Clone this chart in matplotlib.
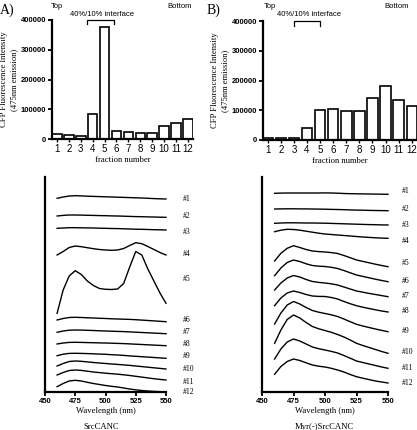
import matplotlib
matplotlib.use("Agg")
import matplotlib.pyplot as plt

# bar data (CFP fluorescence, 475nm emission)
fractions = list(range(1, 13))
bars_a = [17000, 13500, 10000, 84000, 375000, 27000, 22500, 20000, 21000, 45000, 53000, 66000]
bars_b = [8000, 6000, 6000, 40000, 101000, 105000, 99000, 99000, 141000, 181000, 133000, 113000]
yticks = [0, 100000, 200000, 300000, 400000]

# emission spectra, stacked (arbitrary units, offset per fraction)
wavelength = [460, 465, 470, 475, 480, 485, 490, 495, 500, 505, 510, 515, 520, 525, 530, 535, 540, 545, 550]
spec_a = [
    [193.7, 195.0, 196.0, 196.3, 196.1, 195.8, 195.6, 195.4, 195.2, 195.0, 194.8, 194.6, 194.4, 194.2, 194.0, 193.7, 193.4, 193.2, 193.0],
    [176.0, 176.6, 177.0, 177.0, 176.9, 176.7, 176.6, 176.4, 176.3, 176.1, 176.0, 175.8, 175.6, 175.4, 175.3, 175.1, 175.0, 174.8, 174.7],
    [163.7, 164.0, 164.3, 164.3, 164.2, 164.1, 164.0, 163.8, 163.7, 163.5, 163.4, 163.2, 163.0, 162.8, 162.7, 162.5, 162.3, 162.2, 162.0],
    [137.0, 140.5, 144.5, 146.0, 145.3, 144.3, 143.3, 142.5, 142.0, 141.7, 142.0, 143.5, 146.5, 149.3, 148.3, 145.5, 142.5, 139.5, 137.0],
    [78.7, 102.0, 116.0, 121.3, 117.5, 111.0, 106.5, 103.5, 102.7, 102.5, 103.0, 108.5, 125.0, 140.5, 137.0, 123.0, 111.0, 99.0, 88.7],
    [72.0, 73.5, 74.5, 74.7, 74.5, 74.2, 74.0, 73.7, 73.5, 73.2, 73.0, 72.8, 72.6, 72.3, 71.9, 71.5, 71.1, 70.7, 70.3],
    [59.7, 61.0, 61.8, 62.0, 61.9, 61.7, 61.5, 61.2, 61.0, 60.8, 60.6, 60.4, 60.1, 59.8, 59.5, 59.2, 58.9, 58.6, 58.3],
    [48.0, 49.0, 49.6, 49.7, 49.6, 49.4, 49.3, 49.1, 49.0, 48.8, 48.6, 48.4, 48.1, 47.8, 47.5, 47.2, 46.9, 46.6, 46.3],
    [36.3, 37.8, 38.6, 38.7, 38.6, 38.4, 38.2, 37.9, 37.7, 37.3, 37.0, 36.6, 36.1, 35.7, 35.3, 34.9, 34.5, 34.1, 33.7],
    [26.0, 28.5, 30.5, 31.0, 30.7, 30.1, 29.5, 29.0, 28.5, 28.0, 27.6, 27.1, 26.6, 26.0, 25.4, 24.8, 24.2, 23.6, 23.0],
    [17.0, 19.5, 21.5, 22.0, 21.6, 20.8, 20.0, 19.4, 18.8, 18.3, 17.8, 17.2, 16.5, 15.7, 14.9, 14.1, 13.3, 12.6, 12.0],
    [5.3, 8.5, 11.0, 11.7, 11.0, 9.7, 8.5, 7.5, 6.5, 5.7, 5.0, 4.0, 3.0, 2.2, 1.5, 1.0, 0.6, 0.3, 0.0],
]
spec_b = [
    [198.7, 198.9, 199.0, 199.0, 199.0, 199.0, 199.0, 199.0, 199.1, 199.0, 198.8, 198.5, 198.3, 198.2, 198.1, 198.0, 197.9, 197.8, 197.7],
    [183.0, 183.1, 183.2, 183.2, 183.1, 183.1, 183.0, 182.9, 182.8, 182.6, 182.5, 182.3, 182.1, 181.9, 181.8, 181.6, 181.5, 181.4, 181.3],
    [168.7, 169.0, 169.2, 169.2, 169.1, 169.0, 169.0, 168.9, 168.8, 168.6, 168.4, 168.2, 168.0, 167.8, 167.6, 167.4, 167.3, 167.1, 167.0],
    [160.3, 161.8, 162.7, 162.5, 161.8, 160.8, 159.8, 158.8, 158.0, 157.5, 157.0, 156.5, 156.0, 155.5, 155.0, 154.6, 154.2, 153.9, 153.7],
    [131.0, 138.7, 143.7, 146.3, 144.5, 142.5, 141.0, 140.4, 140.0, 139.4, 138.5, 136.5, 134.3, 132.0, 130.6, 129.2, 127.8, 126.5, 125.3],
    [116.3, 124.0, 129.5, 132.0, 130.5, 128.2, 126.5, 125.8, 125.5, 124.7, 123.5, 121.5, 119.2, 117.0, 115.6, 114.2, 112.8, 111.5, 110.3],
    [102.0, 109.0, 114.0, 116.5, 115.0, 112.5, 110.5, 109.6, 109.0, 108.2, 107.0, 105.0, 103.0, 101.0, 99.8, 98.6, 97.5, 96.4, 95.3],
    [86.3, 94.0, 99.0, 101.0, 99.5, 97.5, 96.0, 95.6, 95.5, 94.5, 93.0, 90.5, 88.3, 86.3, 84.8, 83.5, 82.2, 81.0, 80.0],
    [68.0, 79.0, 87.0, 90.5, 88.0, 84.5, 81.5, 79.8, 78.5, 77.2, 75.5, 73.0, 70.3, 67.7, 66.0, 64.5, 63.0, 61.6, 60.3],
    [48.7, 62.0, 72.5, 77.0, 74.0, 69.5, 65.5, 63.2, 61.5, 59.7, 57.5, 55.0, 52.0, 48.7, 46.5, 44.5, 42.5, 40.5, 38.7],
    [33.0, 43.0, 50.0, 53.0, 51.0, 48.0, 45.0, 43.3, 42.0, 40.6, 39.0, 36.5, 33.8, 31.0, 29.5, 28.0, 26.5, 25.0, 23.7],
    [17.7, 25.5, 30.5, 33.0, 31.5, 29.2, 27.0, 25.8, 25.0, 23.7, 22.0, 20.0, 17.5, 15.3, 13.8, 12.4, 11.0, 10.0, 9.0],
]
curve_names = ["#%d" % i for i in fractions]
label_y_a = [193, 176, 160, 138, 113, 72, 60, 48, 36, 23, 10, 0]
label_y_b = [201, 183, 167, 151, 129, 111, 96, 81, 61, 40, 24, 9]
wl_ticks = [450, 475, 500, 525, 550]

SERIF = "Liberation Serif"
SANS = "Liberation Sans"

fig = plt.figure(figsize=(4.17, 4.30), dpi=100)


def bar_panel(rect, values, xlim, bracket):
    ax = fig.add_axes(rect)
    ax.bar(fractions, values, width=0.8, facecolor="white", edgecolor="black", linewidth=1.2)
    ax.set_xlim(*xlim)
    ax.set_ylim(0, 400000)
    ax.set_yticks(yticks)
    ax.set_yticklabels([str(v) for v in yticks], fontsize=5.5, fontweight="bold", family=SANS)
    ax.set_xticks(fractions)
    ax.set_xticklabels([str(f) for f in fractions], fontsize=7, family=SANS)
    ax.tick_params(axis="y", direction="out", length=3, width=1.3, pad=1)
    ax.tick_params(axis="x", direction="out", length=2, width=1.0, pad=1.5)
    for s in ["top", "right"]:
        ax.spines[s].set_visible(False)
    for s in ["left", "bottom"]:
        ax.spines[s].set_linewidth(1.6)
    ax.set_xlabel("fraction number", fontsize=6.2, family=SERIF, labelpad=1.5)
    ax.set_ylabel("CFP Fluorescence Intensity\n(475nm emission)", fontsize=6.2,
                  family=SERIF, labelpad=2, linespacing=1.4)
    x0, x1, ylow = bracket
    ax.plot([x0, x0, x1, x1], [ylow, 400000, 400000, ylow], color="black", lw=0.9, clip_on=False)
    return ax


def spec_panel(rect, spectra, label_x, label_y):
    ax = fig.add_axes(rect)
    for ys in spectra:
        ax.plot(wavelength, ys, color="black", lw=1.0, clip_on=False, solid_joinstyle="round")
    ax.set_xlim(450, 550)
    ax.set_ylim(0, 215)
    ax.set_yticks([])
    ax.set_xticks(wl_ticks)
    ax.set_xticklabels([str(w) for w in wl_ticks], fontsize=5.5, fontweight="bold", family=SANS)
    ax.tick_params(axis="x", direction="out", length=3, width=1.3, pad=1)
    for s in ["top", "right"]:
        ax.spines[s].set_visible(False)
    for s in ["left", "bottom"]:
        ax.spines[s].set_linewidth(1.6)
    for name, y in zip(curve_names, label_y):
        ax.text(label_x, y, name, fontsize=5.5, family=SERIF, ha="left", va="center", clip_on=False)
    ax.set_xlabel("Wavelength (nm)", fontsize=6.2, family=SERIF, labelpad=2)
    return ax


bar_panel([52 / 417, 1 - 139 / 430, 141 / 417, 119 / 430], bars_a, (0.58, 12.43), (3.55, 5.8, 385000))
bar_panel([263 / 417, 1 - 140 / 430, 154 / 417, 119 / 430], bars_b, (0.64, 12.4), (3.04, 4.98, 382000))

spec_panel([45 / 417, 1 - 392 / 430, 121 / 417, 215 / 430], spec_a, 564, label_y_a)
spec_panel([262 / 417, 1 - 392 / 430, 126 / 417, 215 / 430], spec_b, 561, label_y_b)

# panel letters and annotations
fig.text(0.0, 1 - 10 / 430, "A)", fontsize=10, family=SERIF, ha="left", va="center")
fig.text(207 / 417, 1 - 10 / 430, "B)", fontsize=10, family=SERIF, ha="left", va="center")
for xl, xr, xm in [(57, 180, 102), (270, 397, 309)]:
    fig.text(xl / 417, 1 - 6 / 430, "Top", fontsize=5.5, family=SANS, ha="center", va="center")
    fig.text(xr / 417, 1 - 6 / 430, "Bottom", fontsize=5.5, family=SANS, ha="center", va="center")
    fig.text(xm / 417, 1 - 14 / 430, "40%/10% interface", fontsize=5.5, family=SANS,
             ha="center", va="center")
fig.text(101 / 417, 1 - 427 / 430, "SrcCANC", fontsize=6.2, family=SERIF, ha="center", va="center")
fig.text(324 / 417, 1 - 427 / 430, "Myr(-)SrcCANC", fontsize=6.2, family=SERIF, ha="center", va="center")

fig.savefig("out.png", dpi=100)
